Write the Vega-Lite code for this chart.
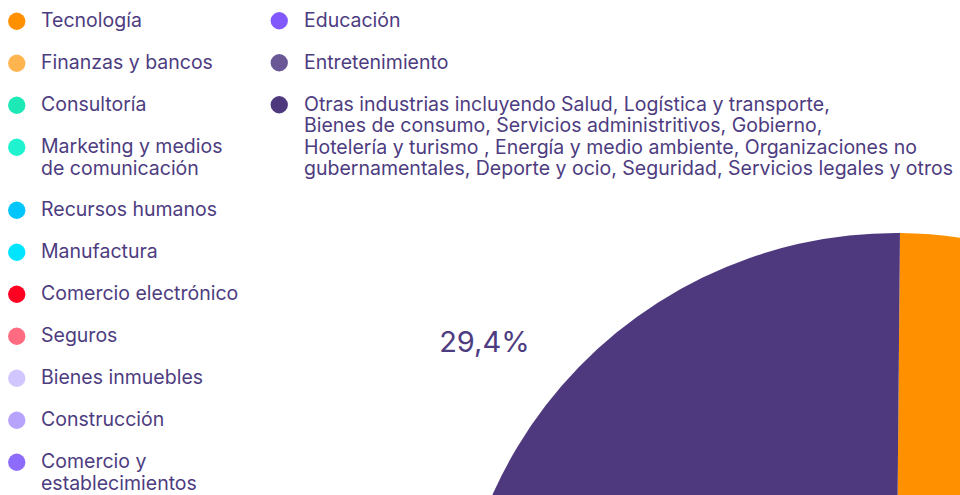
{
  "$schema": "https://vega.github.io/schema/vega-lite/v6.json",
  "width": 1792,
  "height": 1350,
  "autosize": {"type": "none"},
  "padding": 0,
  "background": "#ffffff",
  "config": {
    "view": {"stroke": null},
    "locale": {"number": {"decimal": ",", "thousands": ".", "grouping": [3], "currency": ["", " €"]}},
    "legend": {
      "orient": "none",
      "title": null,
      "symbolType": "circle",
      "symbolSize": 300,
      "symbolStrokeWidth": 0,
      "symbolOpacity": 1,
      "labelFont": "Inter",
      "labelFontSize": 19.5,
      "labelColor": "#4d3c80",
      "rowPadding": 21,
      "padding": 0,
      "labelLimit": 2000,
      "labelBaseline": "middle"
    }
  },
  "data": {
    "values": [
      {"industria": "Tecnología", "share": 0.203, "orden": 1, "grupo": 1},
      {"industria": "Finanzas y bancos", "share": 0.082, "orden": 2, "grupo": 1},
      {"industria": "Consultoría", "share": 0.071, "orden": 3, "grupo": 1},
      {"industria": "Marketing y medios|de comunicación", "share": 0.058, "orden": 4, "grupo": 1},
      {"industria": "Recursos humanos", "share": 0.049, "orden": 5, "grupo": 1},
      {"industria": "Manufactura", "share": 0.043, "orden": 6, "grupo": 1},
      {"industria": "Comercio electrónico", "share": 0.039, "orden": 7, "grupo": 1},
      {"industria": "Seguros", "share": 0.031, "orden": 8, "grupo": 1},
      {"industria": "Bienes inmuebles", "share": 0.022, "orden": 9, "grupo": 1},
      {"industria": "Construcción", "share": 0.019, "orden": 10, "grupo": 1},
      {"industria": "Comercio y|establecimientos", "share": 0.028, "orden": 11, "grupo": 1},
      {"industria": "Educación", "share": 0.027, "orden": 12, "grupo": 2},
      {"industria": "Entretenimiento", "share": 0.034, "orden": 13, "grupo": 2},
      {"industria": "Otras industrias incluyendo Salud, Logística y transporte,|Bienes de consumo, Servicios administritivos, Gobierno,|Hotelería y turismo , Energía y medio ambiente, Organizaciones no|gubernamentales, Deporte y ocio, Seguridad, Servicios legales y otros", "share": 0.294, "orden": 14, "grupo": 2}
    ]
  },
  "transform": [
    {"stack": "share", "groupby": [], "sort": [{"field": "orden", "order": "ascending"}], "as": ["s0", "s1"]}
  ],
  "layer": [
    {
      "transform": [{"filter": "datum.grupo == 1"}],
      "mark": {"type": "arc", "outerRadius": 442},
      "encoding": {
        "theta": {"field": "s0", "type": "quantitative", "stack": null, "scale": {"domain": [0, 1], "range": [0.009, 6.2922]}},
        "theta2": {"field": "s1"},
        "color": {
          "field": "industria",
          "type": "nominal",
          "scale": {
            "domain": ["Tecnología", "Finanzas y bancos", "Consultoría", "Marketing y medios|de comunicación", "Recursos humanos", "Manufactura", "Comercio electrónico", "Seguros", "Bienes inmuebles", "Construcción", "Comercio y|establecimientos"],
            "range": ["#ff9100", "#ffb54f", "#1de9b6", "#1ff2cf", "#00c6fb", "#00e5ff", "#ff0022", "#ff6b81", "#d2c6ff", "#b7a2fc", "#8e6cfb"]
          },
          "legend": {"legendX": 7, "legendY": 11.5, "labelOffset": 14.5, "labelExpr": "split(datum.label, '|')"}
        }
      }
    },
    {
      "transform": [{"filter": "datum.grupo == 2"}],
      "mark": {"type": "arc", "outerRadius": 442},
      "encoding": {
        "theta": {"field": "s0", "type": "quantitative", "stack": null, "scale": {"domain": [0, 1], "range": [0.009, 6.2922]}},
        "theta2": {"field": "s1"},
        "color": {
          "field": "industria",
          "type": "nominal",
          "scale": {
            "domain": ["Educación", "Entretenimiento", "Otras industrias incluyendo Salud, Logística y transporte,|Bienes de consumo, Servicios administritivos, Gobierno,|Hotelería y turismo , Energía y medio ambiente, Organizaciones no|gubernamentales, Deporte y ocio, Seguridad, Servicios legales y otros"],
            "range": ["#8158fc", "#6a5796", "#4f397e"]
          },
          "legend": {"legendX": 269.5, "legendY": 11, "labelOffset": 15, "labelExpr": "split(datum.label, '|')"}
        }
      }
    },
    {
      "mark": {"type": "text", "radius": 529, "thetaOffset": 0.023, "font": "Inter", "fontSize": 29, "color": "#4d3c80", "align": "center", "baseline": "middle"},
      "encoding": {
        "theta": {"field": "share", "type": "quantitative", "stack": true, "scale": {"domain": [0, 1], "range": [0.009, 6.2922]}},
        "order": {"field": "orden", "type": "quantitative"},
        "text": {"field": "share", "type": "quantitative", "format": ".1%"}
      }
    }
  ],
  "resolve": {"scale": {"color": "independent"}}
}
